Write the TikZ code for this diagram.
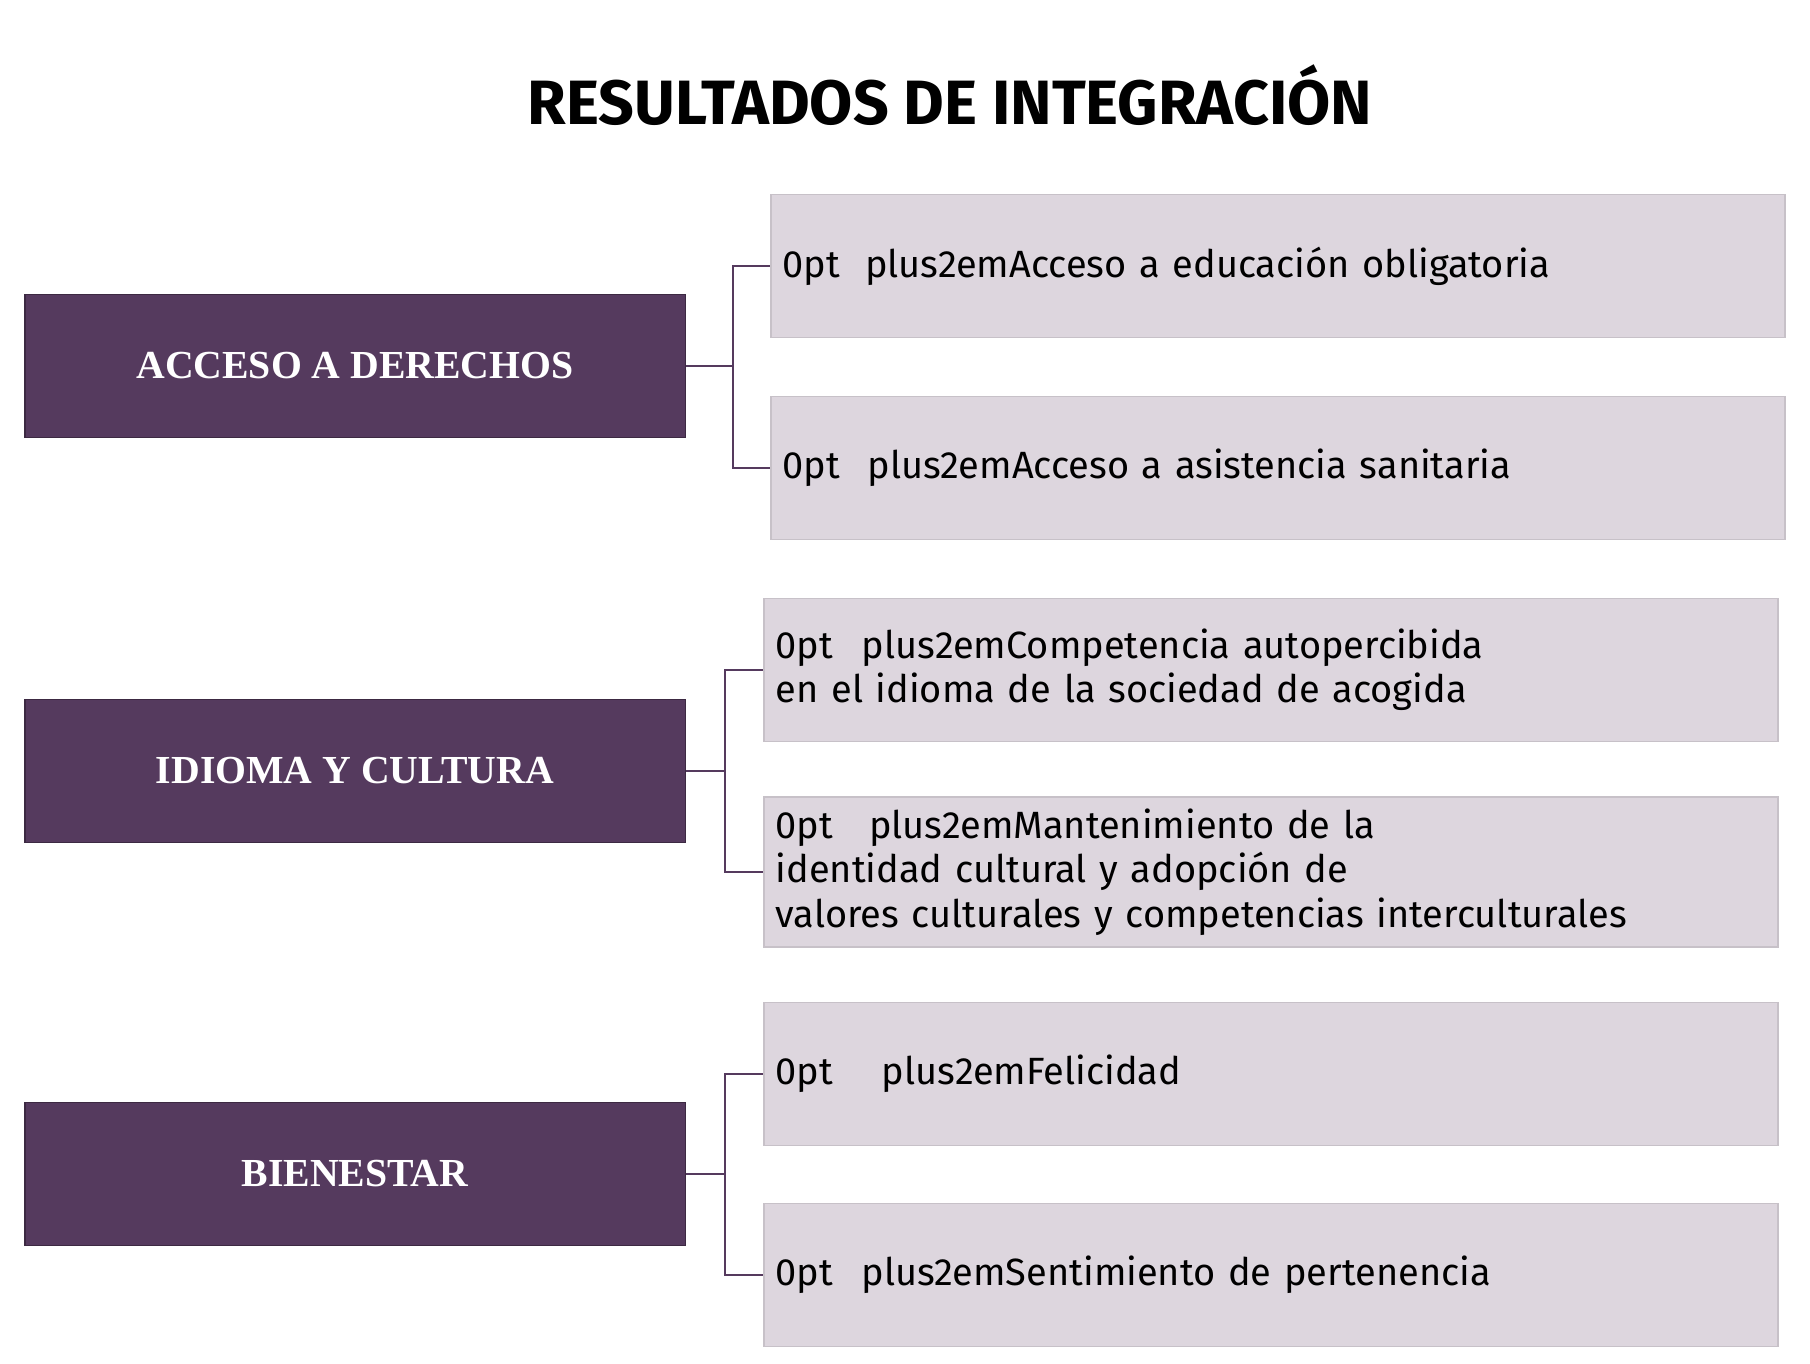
\documentclass[tikz,border=0pt]{standalone}
\usepackage{fontspec}
\setmainfont{Liberation Serif}
\setsansfont{Fira Sans}
\usetikzlibrary{positioning}
\definecolor{catpurple}{HTML}{553A5E}
\definecolor{itemgray}{HTML}{DDD6DE}

\begin{document}
\begin{tikzpicture}[x=0.01cm,y=-0.01cm]
  \tikzset{category/.style={rectangle, fill=catpurple, draw=catpurple!70!black,
      minimum width=6.6cm, minimum height=1.43cm, text=white,
      font=\fontsize{11.3}{14}\selectfont\bfseries},
    item/.style={rectangle, fill=itemgray, draw=itemgray!90!black,
      minimum width=10.03cm, minimum height=1.43cm, text width=9.9cm, align=center,
      font=\sffamily\fontsize{10.8}{12.6}\selectfont\hyphenpenalty=10000},
    link/.style={draw=catpurple, line width=0.8pt}}
  \useasboundingbox (0,0) rectangle (1810,1363);
  \node[font=\sffamily\bfseries\fontsize{17.8}{21}\selectfont] (title) at (950,95) {RESULTADOS DE INTEGRACIÓN};

  \node[category] (C_1) at (355,366) {ACCESO A DERECHOS};
  \node[category] (C_2) at (355,771) {IDIOMA Y CULTURA};
  \node[category] (C_3) at (355,1174) {BIENESTAR};

  \node[item] (I_1) at (1278,266) {Acceso a educación obligatoria};
  \node[item] (I_2) at (1278,468) {Acceso a asistencia sanitaria};
  \node[item] (I_3) at (1271,670) {Competencia autopercibida en el idioma de la sociedad de acogida};
  \node[item] (I_4) at (1271,872) {Mantenimiento de la identidad cultural y adopción de\\ valores culturales y competencias interculturales};
  \node[item] (I_5) at (1271,1074) {Felicidad};
  \node[item] (I_6) at (1271,1275) {Sentimiento de pertenencia};

  \draw[link] (C_1.east) -- ++(47,0) |- (I_1.west);
  \draw[link] (C_1.east) -- ++(47,0) |- (I_2.west);
  \draw[link] (C_2.east) -- ++(39,0) |- (I_3.west);
  \draw[link] (C_2.east) -- ++(39,0) |- (I_4.west);
  \draw[link] (C_3.east) -- ++(39,0) |- (I_5.west);
  \draw[link] (C_3.east) -- ++(39,0) |- (I_6.west);
\end{tikzpicture}
\end{document}
